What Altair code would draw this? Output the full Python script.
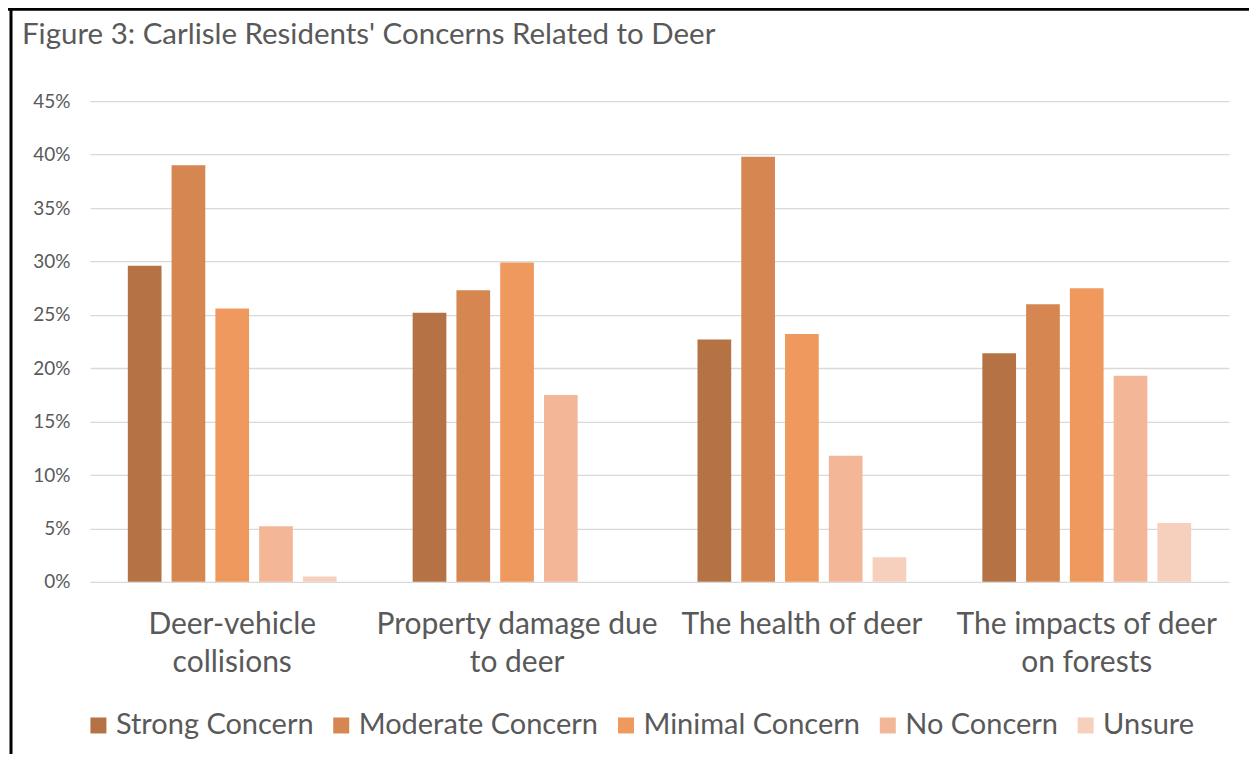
import altair as alt
import pandas as pd

categories = ["Deer-vehicle|collisions", "Property damage due|to deer",
              "The health of deer", "The impacts of deer|on forests"]
levels = ["Strong Concern", "Moderate Concern", "Minimal Concern", "No Concern", "Unsure"]
colors = ["#B57345", "#D58651", "#F0995E", "#F3B798", "#F6D0BC"]

strong = [0.296, 0.252, 0.227, 0.214]
moderate = [0.390, 0.273, 0.398, 0.260]
minimal = [0.256, 0.299, 0.232, 0.275]
no_concern = [0.052, 0.175, 0.118, 0.193]
unsure = [0.005, 0.0, 0.023, 0.055]

series = [strong, moderate, minimal, no_concern, unsure]
rows = []
for lvl, vals in zip(levels, series):
    for cat, v in zip(categories, vals):
        rows.append({"category": cat, "level": lvl, "value": v})
df = pd.DataFrame(rows)

FONT = "Lato"
GREY = "#595959"

bars = alt.Chart(df).mark_bar().encode(
    x=alt.X("category:N", sort=categories,
            scale=alt.Scale(paddingInner=0.267, paddingOuter=0.133),
            axis=alt.Axis(title=None, labelAngle=0, ticks=False, domain=False,
                          labelExpr="split(datum.label, '|')",
                          labelFontSize=30, labelLineHeight=38, labelColor=GREY,
                          labelFont=FONT, labelPadding=28, labelLimit=0,
                          labelBaseline="top")),
    xOffset=alt.XOffset("level:N", sort=levels,
                        scale=alt.Scale(paddingInner=0.23, paddingOuter=0)),
    y=alt.Y("value:Q",
            scale=alt.Scale(domain=[0, 0.45], nice=False),
            axis=alt.Axis(title=None, format=".0%",
                          values=[0, 0.05, 0.1, 0.15, 0.2, 0.25, 0.3, 0.35, 0.4, 0.45],
                          ticks=False, domain=False, labelFontSize=19,
                          labelColor=GREY, labelFont=FONT, labelPadding=20,
                          gridColor="#D9D9D9", gridWidth=1.3)),
    color=alt.Color("level:N", sort=levels,
                    scale=alt.Scale(domain=levels, range=colors),
                    legend=alt.Legend(title=None, orient="none", direction="horizontal",
                                      legendX=-6, legendY=610,
                                      symbolType="square", symbolSize=256,
                                      symbolStrokeWidth=0, labelFontSize=29,
                                      labelFont=FONT, labelColor=GREY,
                                      labelOffset=3, columnPadding=13,
                                      labelLimit=0)),
)

border_top = alt.Chart(pd.DataFrame({"k": [0]})).mark_rule(
    color="black", strokeWidth=3).encode(
    x=alt.value(-82), x2=alt.value(1170), y=alt.value(-92))
border_left = alt.Chart(pd.DataFrame({"k": [0]})).mark_rule(
    color="black", strokeWidth=3).encode(
    x=alt.value(-79), y=alt.value(-93), y2=alt.value(680))

chart = alt.layer(bars, border_top, border_left).properties(
    width=1140, height=481,
    autosize=alt.AutoSizeParams(type="none"),
    padding={"left": 82, "top": 93, "right": 20, "bottom": 172},
    background="white",
    title=alt.TitleParams("Figure 3: Carlisle Residents' Concerns Related to Deer",
                          anchor="start", frame="group", dx=-68, offset=-44,
                          fontSize=29.5, font=FONT, fontWeight="normal", color=GREY),
).configure_view(stroke=None)

chart.save("out.html", embed_options={"renderer": "svg", "actions": False})
